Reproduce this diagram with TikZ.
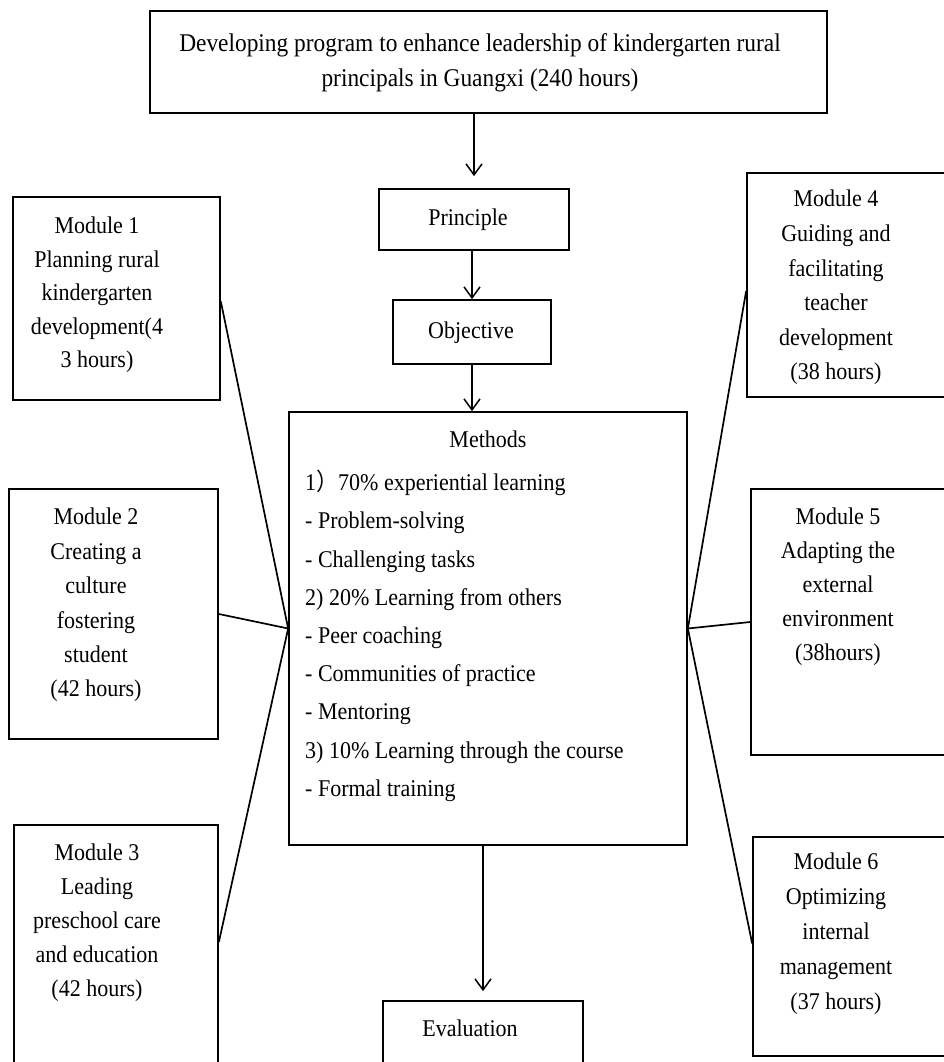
\documentclass[tikz,border=0pt]{standalone}
\usepackage{fontspec}
\setmainfont[FakeStretch=0.917]{Liberation Serif}
\newfontfamily\cjk[FakeStretch=0.917]{Noto Sans CJK SC}
\usetikzlibrary{arrows.meta}
\begin{document}
\begin{tikzpicture}[x=1pt,y=-1pt,
  box/.style={draw, line width=1.7pt, rectangle, inner sep=0pt},
  txt/.style={inner sep=0pt, align=center, anchor=north,
    font=\fontsize{24}{34}\selectfont},
  arr/.style={line width=1.5pt, -{Straight Barb[length=11pt,width=16pt,line width=1.5pt]}},
  con/.style={line width=1.7pt}]
\useasboundingbox (0,0) rectangle (944,1062);
\fill[white] (0,0) rectangle (944,1062);
\clip (0,0) rectangle (944,1062);

% boxes
\node[box, minimum width=677pt, minimum height=102pt] (top) at (488.5,62) {};
\node[box, minimum width=190pt, minimum height=61pt] (princ) at (474,219.5) {};
\node[box, minimum width=158pt, minimum height=64pt] (obj) at (472,332) {};
\node[box, minimum width=398pt, minimum height=433pt] (meth) at (488,628.5) {};
\node[box, minimum width=200pt, minimum height=78pt] (eval) at (483,1040) {};
\node[box, minimum width=207pt, minimum height=203pt] (m1) at (116.5,298.5) {};
\node[box, minimum width=209pt, minimum height=250pt] (m2) at (113.5,614) {};
\node[box, minimum width=204pt, minimum height=250pt] (m3) at (116,950) {};
\node[box, minimum width=213pt, minimum height=224pt] (m4) at (853.5,285) {};
\node[box, minimum width=209pt, minimum height=266pt] (m5) at (855.5,622) {};
\node[box, minimum width=207pt, minimum height=219pt] (m6) at (856.5,946.5) {};

% texts
\node[txt, font=\fontsize{25.5}{35}\selectfont] (topt) at (480,33) {Developing program to enhance leadership of kindergarten rural\\principals in Guangxi (240 hours)};
\node[txt] (princt) at (468,209) {Principle};
\node[txt] (objt) at (471,322) {Objective};
\node[txt] (metht) at (488,431) {Methods};
\node[txt, align=left, anchor=north west, font=\fontsize{24}{38.2}\selectfont] (methl) at (305,470)
 {1{\cjk ）}70\% experiential learning\\
  - Problem-solving\\
  - Challenging tasks\\
  2) 20\% Learning from others\\
  - Peer coaching\\
  - Communities of practice\\
  - Mentoring\\
  3) 10\% Learning through the course\\
  - Formal training};
\node[txt] (evalt) at (470,1020) {Evaluation};

\node[txt, font=\fontsize{24}{33.5}\selectfont] (m1t) at (97,217) {Module 1\\Planning rural\\kindergarten\\development(4\\3 hours)};
\node[txt, font=\fontsize{24}{34.4}\selectfont] (m2t) at (96,508) {Module 2\\Creating a\\culture\\fostering\\student\\(42 hours)};
\node[txt, font=\fontsize{24}{34}\selectfont] (m3t) at (97,844) {Module 3\\Leading\\preschool care\\and education\\(42 hours)};
\node[txt, font=\fontsize{24}{34.6}\selectfont] (m4t) at (836,190) {Module 4\\Guiding and\\facilitating\\teacher\\development\\(38 hours)};
\node[txt, font=\fontsize{24}{34}\selectfont] (m5t) at (838,508) {Module 5\\Adapting the\\external\\environment\\(38hours)};
\node[txt, font=\fontsize{24}{34.8}\selectfont] (m6t) at (836,853) {Module 6\\Optimizing\\internal\\management\\(37 hours)};

% arrows
\draw[arr, shorten >=12pt] (top.south -| princ.north) -- (princ.north);
\draw[arr] (princ.south -| obj.north) -- (obj.north);
\draw[arr] (obj.south -| obj.north) -- (obj.south |- meth.north);
\draw[arr, shorten >=9pt] (meth.south -| eval.north) -- (eval.north);

% connectors
\draw[con] ([yshift=-3pt]m1.east) -- (meth.west);
\draw[con] (m2.east) -- (meth.west);
\draw[con] ([yshift=8pt]m3.east) -- (meth.west);
\draw[con] ([yshift=-6pt]m4.west) -- (meth.east);
\draw[con] (m5.west) -- (meth.east);
\draw[con] ([yshift=3pt]m6.west) -- (meth.east);
\end{tikzpicture}
\end{document}
